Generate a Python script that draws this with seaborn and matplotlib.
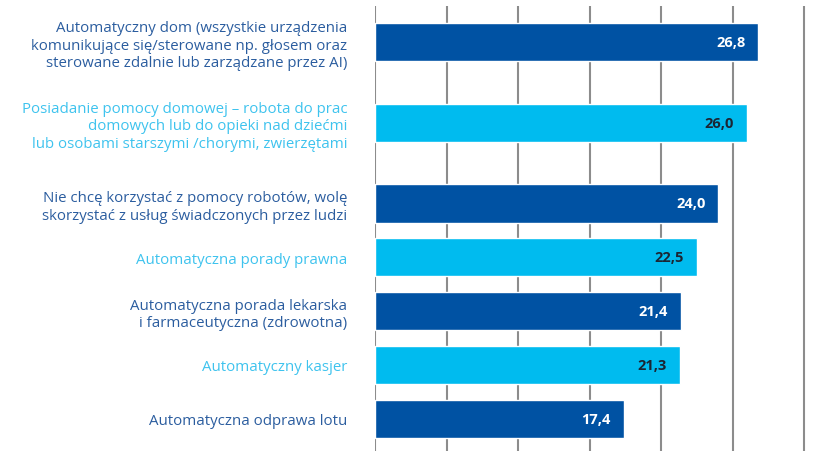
import matplotlib
matplotlib.use("Agg")
import matplotlib.pyplot as plt
import seaborn as sns
import pandas as pd

# survey answers, top to bottom
labels = [
    "Automatyczny dom (wszystkie urządzenia\nkomunikujące się/sterowane np. głosem oraz\nsterowane zdalnie lub zarządzane przez AI)",
    "Posiadanie pomocy domowej – robota do prac\ndomowych lub do opieki nad dziećmi\nlub osobami starszymi /chorymi, zwierzętami",
    "Nie chcę korzystać z pomocy robotów, wolę\nskorzystać z usług świadczonych przez ludzi",
    "Automatyczna porady prawna",
    "Automatyczna porada lekarska\ni farmaceutyczna (zdrowotna)",
    "Automatyczny kasjer",
    "Automatyczna odprawa lotu",
]
values = [26.8, 26.0, 24.0, 22.5, 21.4, 21.3, 17.4]
shade = ["dark", "light", "dark", "light", "dark", "light", "dark"]

# layout: slot of each bar (first rows have three-line labels, so more room)
slots = [0, 1.5, 3, 4, 5, 6, 7]

bar_colors = {"dark": "#0052a3", "light": "#00bbef"}
label_colors = {"dark": "#2b5d9f", "light": "#3ec3ee"}
value_colors = {"dark": "white", "light": "#1b2533"}

sns.set_theme(style="white")
plt.rcParams["font.family"] = ["Open Sans", "DejaVu Sans"]

df = pd.DataFrame({"label": labels, "value": values, "shade": shade, "slot": slots})

fig = plt.figure(figsize=(8.4, 4.52), dpi=100)
ax = fig.add_axes([375 / 840, 0, 1 - 375 / 840, 1 - 7 / 452])

sns.barplot(data=df, x="value", y="slot", hue="shade", palette=bar_colors,
            orient="h", native_scale=True, width=0.71, saturation=1,
            legend=False, ax=ax)

ax.set_xlim(0, 32.5)
ax.set_ylim(7.6, -0.67)
ax.set_xticks(range(0, 35, 5))
ax.xaxis.grid(True, color="#8c8c8c", linewidth=1.5)
ax.set_axisbelow(True)
ax.tick_params(axis="x", bottom=False, labelbottom=False)
for s in ax.spines.values():
    s.set_visible(False)
ax.set_xlabel("")
ax.set_ylabel("")

ax.set_yticks(slots)
ax.set_yticklabels(labels, fontsize=10.8, linespacing=1.2)
ax.tick_params(axis="y", length=0, pad=20)
for tl, sh in zip(ax.get_yticklabels(), shade):
    tl.set_color(label_colors[sh])

# value labels inside the bar ends
for v, y, sh in zip(values, slots, shade):
    ax.annotate(f"{v:.1f}".replace(".", ","), xy=(v, y), xytext=(-13, 0),
                textcoords="offset pixels", ha="right", va="center",
                fontsize=10.5, fontweight="bold", color=value_colors[sh])

fig.savefig("out.png", dpi=100)
